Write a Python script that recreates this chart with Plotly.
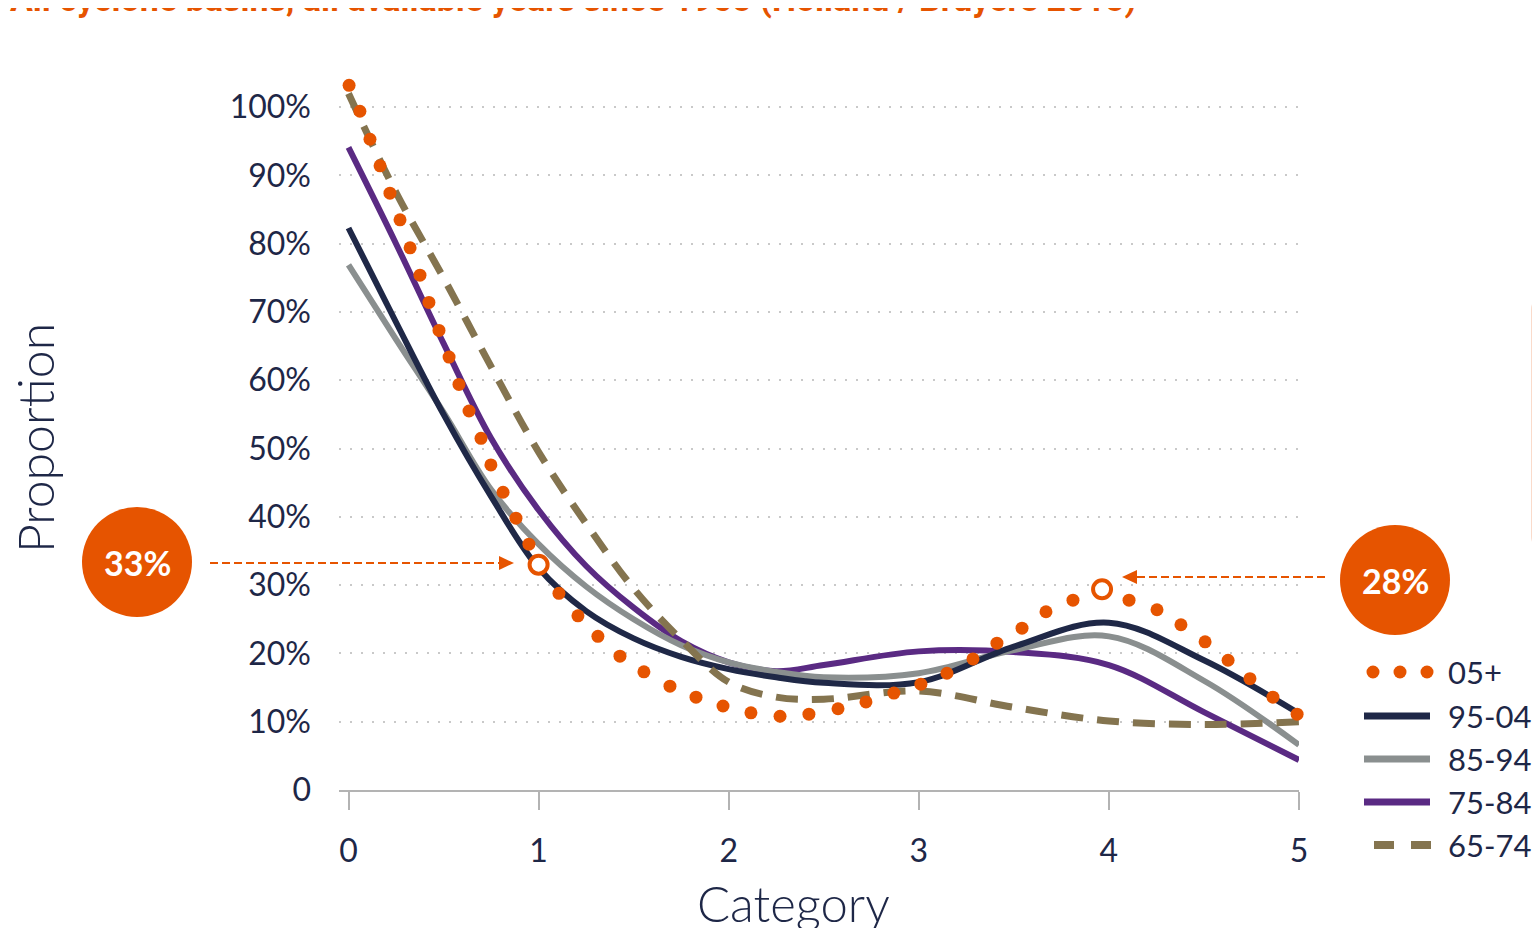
import plotly.graph_objects as go

# ---------------- data ----------------
categories = [0, 1, 2, 3, 4, 5]
y_tick_vals = [0, 0.1, 0.2, 0.3, 0.4, 0.5, 0.6, 0.7, 0.8, 0.9, 1.0]
y_tick_text = ["0", "10%", "20%", "30%", "40%", "50%", "60%", "70%", "80%", "90%", "100%"]

curve_x = [0, 0.25, 0.5, 0.75, 1, 1.25, 1.5, 1.75, 2, 2.25, 2.5, 3, 3.5, 4, 4.5, 5]

p95_04 = [0.823, 0.685, 0.55, 0.43, 0.325, 0.262, 0.222, 0.195, 0.177, 0.165, 0.157, 0.158, 0.21, 0.245, 0.19, 0.112]
p85_94 = [0.769, 0.66, 0.553, 0.44, 0.36, 0.298, 0.25, 0.212, 0.187, 0.173, 0.165, 0.171, 0.205, 0.225, 0.16, 0.066]
p75_84 = [0.941, 0.80, 0.654, 0.515, 0.41, 0.328, 0.267, 0.218, 0.187, 0.174, 0.183, 0.203, 0.202, 0.183, 0.114, 0.044]
p65_74 = [1.02, 0.875, 0.75, 0.62, 0.495, 0.39, 0.295, 0.22, 0.158, 0.136, 0.133, 0.145, 0.121, 0.101, 0.096, 0.10]

dots_x = [0.003, 0.060, 0.113, 0.166, 0.218, 0.271, 0.324, 0.376, 0.423, 0.476, 0.529, 0.581,
          0.634, 0.697, 0.749, 0.813, 0.881, 0.949, 1.0, 1.107, 1.207, 1.312, 1.428, 1.554,
          1.691, 1.828, 1.970, 2.117, 2.270, 2.422, 2.575, 2.722, 2.869, 3.011, 3.148, 3.285,
          3.411, 3.543, 3.669, 3.811, 3.964, 4.106, 4.253, 4.379, 4.506, 4.627, 4.742, 4.863, 4.990]
dots_y = [1.032, 0.994, 0.953, 0.914, 0.874, 0.835, 0.794, 0.754, 0.714, 0.673, 0.634, 0.594,
          0.555, 0.515, 0.476, 0.436, 0.398, 0.360, 0.33, 0.288, 0.255, 0.225, 0.196, 0.173,
          0.152, 0.136, 0.123, 0.113, 0.108, 0.111, 0.119, 0.129, 0.142, 0.155, 0.171, 0.192,
          0.215, 0.237, 0.261, 0.278, 0.294, 0.278, 0.264, 0.242, 0.217, 0.190, 0.163, 0.136, 0.111]

highlight_x = [1.0, 3.964]
highlight_y = [0.33, 0.294]
badge_text = ["33%", "28%"]

series_names = ["05+", "95-04", "85-94", "75-84", "65-74"]

ORANGE = "#E65400"
NAVY = "#1F2847"
GRAY = "#8A8F8F"
PURPLE = "#5A2A83"
KHAKI = "#84744F"
TEXT = "#1E2747"
FONT = "Lato"

fig = go.Figure()

fig.add_trace(go.Scatter(x=curve_x, y=p75_84, mode="lines", name=series_names[3],
                         line=dict(color=PURPLE, width=6, shape="spline", smoothing=1.0), showlegend=False))
fig.add_trace(go.Scatter(x=curve_x, y=p85_94, mode="lines", name=series_names[2],
                         line=dict(color=GRAY, width=6, shape="spline", smoothing=1.0), showlegend=False))
fig.add_trace(go.Scatter(x=curve_x, y=p95_04, mode="lines", name=series_names[1],
                         line=dict(color=NAVY, width=6, shape="spline", smoothing=1.0), showlegend=False))
fig.add_trace(go.Scatter(x=curve_x, y=p65_74, mode="lines", name=series_names[4],
                         line=dict(color=KHAKI, width=7, shape="spline", smoothing=1.0, dash="22px,14px"),
                         showlegend=False))
fig.add_trace(go.Scatter(x=dots_x, y=dots_y, mode="markers", name=series_names[0],
                         marker=dict(color=ORANGE, size=13, line=dict(width=0)), cliponaxis=False,
                         showlegend=False))
fig.add_trace(go.Scatter(x=highlight_x, y=highlight_y, mode="markers", name="highlight",
                         marker=dict(color="white", size=18, line=dict(color=ORANGE, width=4)),
                         cliponaxis=False, showlegend=False))

# ---------------- layout geometry (page pixels -> paper coords) ----------------
OFF = 8                      # the page body adds an 8px margin
W, H = 1540 - OFF, 928 - OFF
L, R, T, B = 339 - OFF, 1299 - OFF, 73 - OFF, 790 - OFF  # plot area in figure pixels


def px(xp):
    return (xp - OFF - L) / (R - L)


def py(yp):
    return (B - (yp - OFF)) / (B - T)


shapes = []
annotations = []

# pale panel at right edge
r = 12
x0p, x1p, y0p, y1p = 1531, 1546, 298, 548
shapes.append(dict(type="path", xref="paper", yref="paper",
                   path=("M %f,%f L %f,%f L %f,%f Q %f,%f %f,%f L %f,%f Q %f,%f %f,%f Z" % (
                       px(x1p), py(y0p), px(x1p), py(y1p), px(x0p + r), py(y1p),
                       px(x0p), py(y1p), px(x0p), py(y1p - r),
                       px(x0p), py(y0p + r),
                       px(x0p), py(y0p), px(x0p + r), py(y0p))),
                   fillcolor="#FADBCB", line=dict(width=0), layer="above"))

# badges
for (cx, cy, txt) in [(137, 562, badge_text[0]), (1395, 580, badge_text[1])]:
    shapes.append(dict(type="circle", xref="paper", yref="paper",
                       x0=px(cx - 55), x1=px(cx + 55), y0=py(cy + 55), y1=py(cy - 55),
                       fillcolor=ORANGE, line=dict(width=0), layer="above"))
    annotations.append(dict(xref="paper", yref="paper", x=px(cx), y=py(cy), text="<b>%s</b>" % txt,
                            showarrow=False, xanchor="center", yanchor="middle",
                            font=dict(family=FONT, size=34, color="white")))

# dashed arrows
shapes.append(dict(type="line", xref="paper", yref="paper", x0=px(210), x1=px(500), y0=py(563), y1=py(563),
                   line=dict(color=ORANGE, width=2, dash="8px,4px")))
shapes.append(dict(type="path", xref="paper", yref="paper",
                   path="M %f,%f L %f,%f L %f,%f Z" % (px(499), py(556), px(514), py(563), px(499), py(570)),
                   fillcolor=ORANGE, line=dict(width=0)))
shapes.append(dict(type="line", xref="paper", yref="paper", x0=px(1325), x1=px(1136), y0=py(577), y1=py(577),
                   line=dict(color=ORANGE, width=2, dash="8px,4px")))
shapes.append(dict(type="path", xref="paper", yref="paper",
                   path="M %f,%f L %f,%f L %f,%f Z" % (px(1137), py(570), px(1122), py(577), px(1137), py(584)),
                   fillcolor=ORANGE, line=dict(width=0)))

# manual legend
leg_y = [672, 716, 759, 802, 845]
for cxp in [1373, 1400, 1427]:
    shapes.append(dict(type="circle", xref="paper", yref="paper",
                       x0=px(cxp - 6.5), x1=px(cxp + 6.5), y0=py(leg_y[0] + 6.5), y1=py(leg_y[0] - 6.5),
                       fillcolor=ORANGE, line=dict(width=0)))
for yy, col in [(leg_y[1], NAVY), (leg_y[2], GRAY), (leg_y[3], PURPLE)]:
    shapes.append(dict(type="line", xref="paper", yref="paper", x0=px(1364), x1=px(1430), y0=py(yy), y1=py(yy),
                       line=dict(color=col, width=7)))
for (a, b) in [(1374, 1394), (1411, 1431)]:
    shapes.append(dict(type="line", xref="paper", yref="paper", x0=px(a), x1=px(b), y0=py(leg_y[4]), y1=py(leg_y[4]),
                       line=dict(color=KHAKI, width=8)))
for yy, name in zip(leg_y, series_names):
    annotations.append(dict(xref="paper", yref="paper", x=px(1446), y=py(yy), text=name, showarrow=False,
                            xanchor="left", yanchor="middle",
                            font=dict(family=FONT, size=31, color=TEXT)))

# axis titles
annotations.append(dict(xref="paper", yref="paper", x=px(793), y=py(903), text="Category", showarrow=False,
                        xanchor="center", yanchor="middle",
                        font=dict(family=FONT, size=49, color=TEXT, weight=300)))
annotations.append(dict(xref="paper", yref="paper", x=px(35), y=py(438), text="Proportion", showarrow=False,
                        xanchor="center", yanchor="middle", textangle=-90,
                        font=dict(family=FONT, size=50, color=TEXT, weight=300)))

# cut-off title at top
annotations.append(dict(xref="paper", yref="paper", x=px(8), y=py(-1),
                        text="<b>All cyclone basins, all available years since 1965 (Holland / Bruyère 2015)</b>",
                        showarrow=False, xanchor="left", yanchor="middle",
                        font=dict(family="Liberation Sans Narrow, Roboto", size=34, color=ORANGE)))

fig.update_layout(
    width=W, height=H,
    margin=dict(l=L, r=W - R, t=T, b=H - B, pad=0),
    paper_bgcolor="white", plot_bgcolor="white",
    showlegend=False,
    shapes=shapes, annotations=annotations,
    xaxis=dict(range=[-0.05, 5], tickvals=categories, ticktext=[str(c) for c in categories],
               showline=True, linecolor="#B3B3B3", linewidth=2,
               ticks="outside", ticklen=18, tickwidth=2, tickcolor="#B3B3B3",
               showgrid=False, zeroline=False, ticklabelstandoff=14,
               tickfont=dict(family=FONT, size=32, color=TEXT)),
    yaxis=dict(range=[0, 1.05], tickvals=y_tick_vals, ticktext=y_tick_text,
               showgrid=True, gridcolor="#C9C9C9", gridwidth=1.5, griddash="2px,9px",
               zeroline=False, showline=False, ticks="", ticklabelstandoff=27,
               tickfont=dict(family=FONT, size=32, color=TEXT)),
)

fig.write_html("out.html")
